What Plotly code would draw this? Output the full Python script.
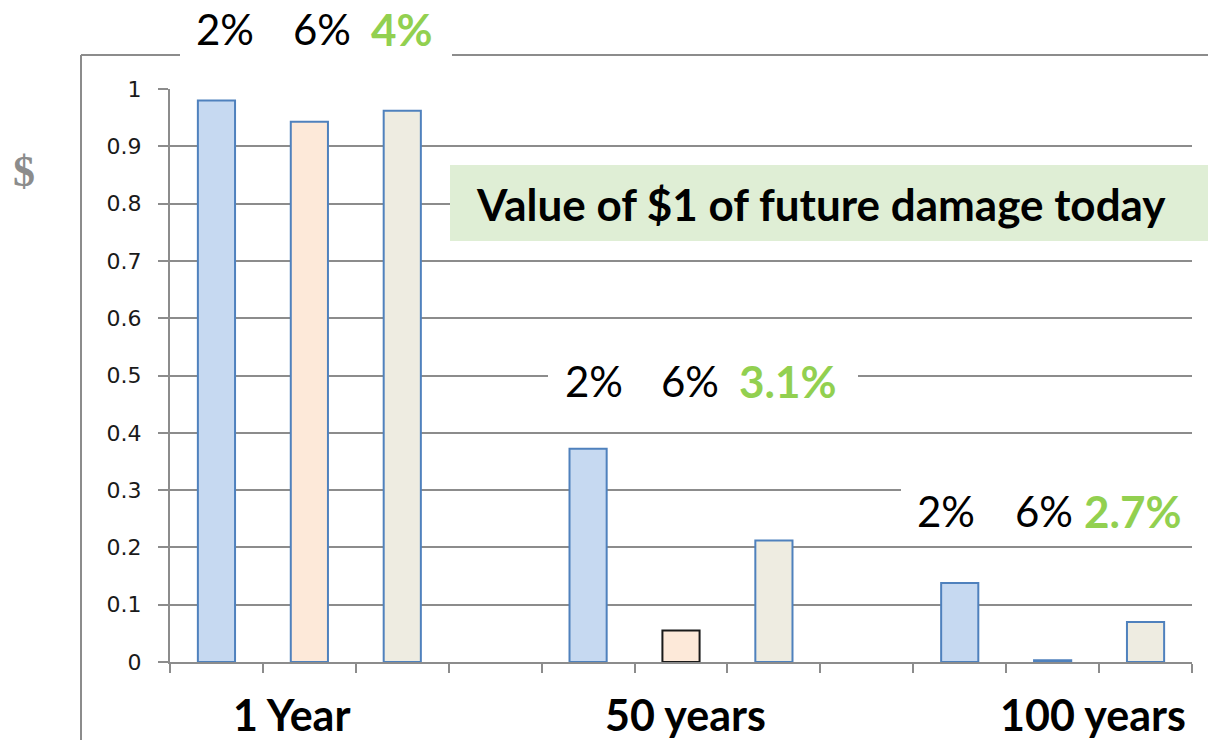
import plotly.graph_objects as go

# ---- data ----
groups = ["1 Year", "50 years", "100 years"]
rate_names = ["2%", "6%", "declining"]
rate_2pct = [0.98, 0.372, 0.138]
rate_6pct = [0.943, 0.055, 0.003]
rate_declining = [0.962, 0.212, 0.070]
declining_labels = ["4%", "3.1%", "2.7%"]
y_ticks = [0, 0.1, 0.2, 0.3, 0.4, 0.5, 0.6, 0.7, 0.8, 0.9, 1]
y_tick_text = ["0", "0.1", "0.2", "0.3", "0.4", "0.5", "0.6", "0.7", "0.8", "0.9", "1"]

series = [rate_2pct, rate_6pct, rate_declining]
fills = ["#c6d9f1", "#fde9d9", "#eeece1"]
blue_edge = "#4f81bd"
edge_colors = [
    [blue_edge, blue_edge, blue_edge],
    [blue_edge, "#1a1a1a", blue_edge],
    [blue_edge, blue_edge, blue_edge],
]

W, H = 1208, 740
# plot area in page pixels: x 170..1192, y 89..662
L, T = 170, 89
R = W - 1192
B = H - 662
PW, PH = W - L - R, H - T - B


def px(x):
    return (x - L) / PW


def py(y):
    return (H - B - y) / PH


fig = go.Figure()
slots_per_group = len(rate_names) + 1
for r, vals in enumerate(series):
    xs = [g * slots_per_group + r for g in range(len(groups))]
    fig.add_trace(go.Bar(
        x=xs, y=vals, width=0.4, name=rate_names[r],
        marker=dict(color=fills[r], line=dict(color=edge_colors[r], width=2)),
        showlegend=False, hoverinfo="x+y",
    ))

n_slots = len(groups) * slots_per_group - 1
grid = "#8c8c8c"
fig.update_layout(
    width=W, height=H,
    margin=dict(l=L, r=R, t=T, b=B, pad=0),
    paper_bgcolor="white", plot_bgcolor="white",
    xaxis=dict(range=[-0.5, n_slots - 0.5], tickvals=[i - 0.5 for i in range(n_slots + 1)],
               showticklabels=False, ticks="outside", ticklen=9, tickcolor=grid, tickwidth=2,
               showline=True, linecolor=grid, linewidth=2, showgrid=False, zeroline=False,
               fixedrange=True),
    yaxis=dict(range=[0, 1.0], tickvals=y_ticks, ticktext=y_tick_text,
               ticks="outside", ticklen=10, tickcolor=grid, tickwidth=2,
               showline=True, linecolor=grid, linewidth=2,
               showgrid=True, gridcolor=grid, gridwidth=2, zeroline=False,
               tickfont=dict(family="DejaVu Sans", size=22, color="#1a1a1a"),
               ticklabelstandoff=12, fixedrange=True),
    bargap=0.6,
)

shapes = []
# outer frame
shapes.append(dict(type="line", xref="paper", yref="paper", x0=px(81), x1=px(W + 5), y0=py(55), y1=py(55),
                   line=dict(color=grid, width=2)))
shapes.append(dict(type="line", xref="paper", yref="paper", x0=px(81), x1=px(81), y0=py(55), y1=py(H + 5),
                   line=dict(color=grid, width=2)))
# white label boxes
for x0, x1, y0, y1 in [(180, 452, 5, 72), (548, 858, 360, 400), (901, W + 5, 478, 535)]:
    shapes.append(dict(type="rect", xref="paper", yref="paper", x0=px(x0), x1=px(x1), y0=py(y1), y1=py(y0),
                       fillcolor="white", line=dict(width=0), layer="above"))
# green title box
shapes.append(dict(type="rect", xref="paper", yref="paper", x0=px(450), x1=px(W + 5), y0=py(241), y1=py(165),
                   fillcolor="#dfeed5", line=dict(width=0), layer="above"))
fig.update_layout(shapes=shapes)

FONT = "Lato"
ann = []


def add_text(text, x, y, size, color="black", bold=False, family=FONT):
    t = f"<b>{text}</b>" if bold else text
    ann.append(dict(text=t, x=px(x), y=py(y), xref="paper", yref="paper", showarrow=False,
                    xanchor="center", yanchor="middle",
                    font=dict(family=family, size=size, color=color)))


green = "#92d050"
pct_positions = [((225, 322, 402), 29), ((594, 690, 788), 381), ((946, 1044, 1133), 511)]
for g, ((x2, x6, xd), yy) in enumerate(pct_positions):
    add_text(rate_names[0], x2, yy, 42)
    add_text(rate_names[1], x6, yy, 42)
    add_text(declining_labels[g], xd, yy, 44, color=green, bold=True)

for g, xc in zip(groups, [291, 685, 1093]):
    add_text(g, xc, 714, 43, bold=True)

add_text("Value of $1 of future damage today", 821, 204, 44, bold=True)
add_text("$", 24, 171, 44, color="#8c8c8c", bold=True, family="Liberation Serif")

fig.update_layout(annotations=ann)
fig.write_html("out.html", config={"displayModeBar": False},
               post_script="document.body.style.margin='0';document.body.style.overflow='hidden';")
